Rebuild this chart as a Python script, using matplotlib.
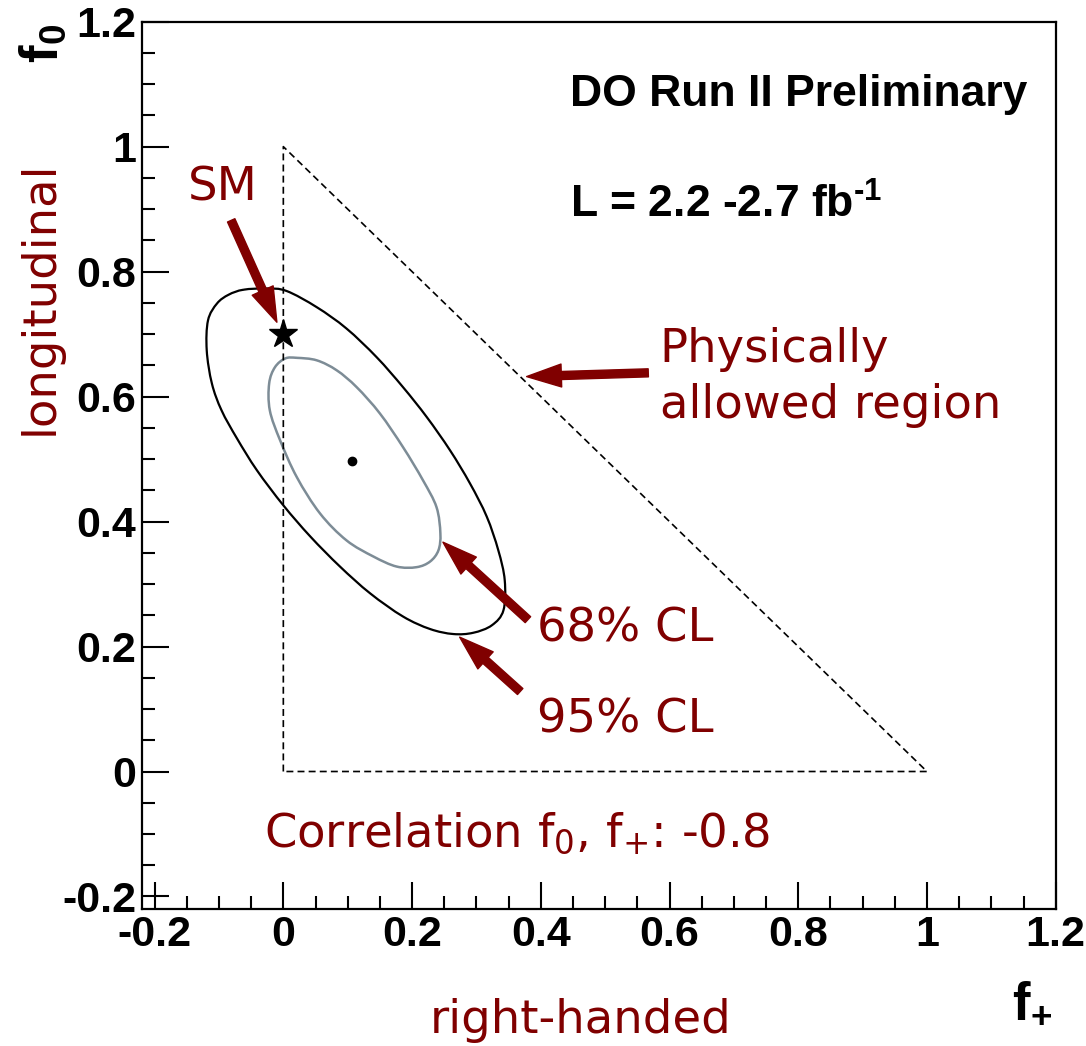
import matplotlib
matplotlib.use("Agg")
import matplotlib.pyplot as plt
from matplotlib.ticker import MultipleLocator, FuncFormatter
from matplotlib.path import Path
from matplotlib.patches import PathPatch

plt.rcParams['font.family'] = ['Liberation Sans', 'DejaVu Sans']
plt.rcParams['axes.unicode_minus'] = False
plt.rcParams['mathtext.default'] = 'regular'
plt.rcParams['lines.scale_dashes'] = False

DARKRED = '#800000'
GREY = '#7d8c96'

# best fit and Standard Model point (f+, f0)
best_fit = (0.107, 0.497)
sm_point = (0.0, 0.70)

# 95% CL contour (black), closed loop
cl95_fplus = [-0.062, -0.026, 0.005, 0.052, 0.098, 0.145, 0.186, 0.223, 0.259, 0.290,
              0.316, 0.334, 0.344, 0.342, 0.324, 0.295, 0.264, 0.228, 0.186, 0.135,
              0.088, 0.042, 0.000, -0.041, -0.072, -0.096, -0.111, -0.119, -0.117,
              -0.103, -0.085]
cl95_f0 = [0.771, 0.773, 0.769, 0.743, 0.709, 0.663, 0.615, 0.567, 0.514, 0.461,
           0.408, 0.354, 0.306, 0.258, 0.234, 0.222, 0.220, 0.228, 0.248, 0.285,
           0.328, 0.376, 0.426, 0.482, 0.533, 0.578, 0.621, 0.674, 0.722,
           0.749, 0.763]

# 68% CL contour (grey), closed loop
cl68_fplus = [0.021, 0.052, 0.083, 0.114, 0.150, 0.186, 0.217, 0.238, 0.244, 0.241,
              0.228, 0.207, 0.176, 0.140, 0.098, 0.057, 0.021, -0.005, -0.021, -0.022,
              -0.013, 0.003]
cl68_f0 = [0.662, 0.658, 0.642, 0.615, 0.573, 0.519, 0.466, 0.423, 0.381, 0.354,
           0.336, 0.327, 0.328, 0.344, 0.370, 0.413, 0.471, 0.530, 0.578, 0.621,
           0.647, 0.661]

# physically allowed region: f0 + f+ <= 1
region_fplus = [0.0, 0.0, 1.0, 0.0]
region_f0 = [0.0, 1.0, 0.0, 0.0]


def closed_curve(xs, ys):
    """smooth closed path through the contour points (Catmull-Rom as cubic Beziers)"""
    n = len(xs)
    pts = list(zip(xs, ys))
    verts = [pts[0]]
    codes = [Path.MOVETO]
    for i in range(n):
        p0, p1 = pts[i - 1], pts[i]
        p2, p3 = pts[(i + 1) % n], pts[(i + 2) % n]
        c1 = (p1[0] + (p2[0] - p0[0]) / 6, p1[1] + (p2[1] - p0[1]) / 6)
        c2 = (p2[0] - (p3[0] - p1[0]) / 6, p2[1] - (p3[1] - p1[1]) / 6)
        verts += [c1, c2, p2]
        codes += [Path.CURVE4] * 3
    return Path(verts, codes)


fig = plt.figure(figsize=(10.86, 10.46), dpi=100)
ax = fig.add_axes([0.1305, 0.131, 0.8416, 0.8483])

ax.set_xlim(-0.22, 1.2)
ax.set_ylim(-0.22, 1.2)
ax.xaxis.set_major_locator(MultipleLocator(0.2))
ax.yaxis.set_major_locator(MultipleLocator(0.2))
ax.xaxis.set_minor_locator(MultipleLocator(0.05))
ax.yaxis.set_minor_locator(MultipleLocator(0.05))
fmt = FuncFormatter(lambda v, pos: '%g' % round(v, 3))
ax.xaxis.set_major_formatter(fmt)
ax.yaxis.set_major_formatter(fmt)
ax.tick_params(which='both', direction='in', top=False, right=False, width=1.5)
ax.tick_params(which='major', length=19.5, labelsize=31, pad=4)
ax.tick_params(which='minor', length=9.5)
for lbl in ax.get_xticklabels() + ax.get_yticklabels():
    lbl.set_fontweight('bold')
for s in ax.spines.values():
    s.set_linewidth(1.6)

ax.plot(region_fplus, region_f0, color='black', lw=1.2, dashes=(5, 3))
ax.add_patch(PathPatch(closed_curve(cl95_fplus, cl95_f0), facecolor='none',
                       edgecolor='black', lw=1.6))
ax.add_patch(PathPatch(closed_curve(cl68_fplus, cl68_f0), facecolor='none',
                       edgecolor=GREY, lw=1.8))
ax.plot(*best_fit, 'o', color='black', ms=6)
ax.plot(*sm_point, '*', color='black', ms=21, clip_on=False)

arrow = dict(facecolor=DARKRED, edgecolor=DARKRED, width=5.8, headwidth=16.5,
             headlength=25, shrink=0)
ax.annotate('', xy=(-0.010, 0.719), xytext=(-0.081, 0.882), arrowprops=arrow)
ax.annotate('', xy=(0.378, 0.632), xytext=(0.567, 0.638), arrowprops=arrow)
ax.annotate('', xy=(0.248, 0.367), xytext=(0.380, 0.243), arrowprops=arrow)
ax.annotate('', xy=(0.274, 0.215), xytext=(0.368, 0.128), arrowprops=arrow)

red = dict(color=DARKRED, family='DejaVu Sans', fontsize=33.5, va='baseline', ha='left')
ax.text(-0.148, 0.914, 'SM', **red)
ax.text(0.585, 0.655, 'Physically', **red)
ax.text(0.585, 0.565, 'allowed region', **red)
ax.text(0.394, 0.2076, '68% CL', **red)
ax.text(0.394, 0.0617, '95% CL', **red)
ax.text(-0.030, -0.1205, 'Correlation f$_{0}$, f$_{{+}}$: -0.8', **red)

black = dict(color='black', fontsize=32, fontweight='bold', va='baseline', ha='left')
ax.text(0.445, 1.0655, 'DO Run II Preliminary', **black)
ax.text(0.445, 0.887, 'L = 2.2 -2.7 fb$^{\u2010 1}$', **black)

# axis titles placed in figure pixels, ROOT style
W, H = 1086.0, 1046.0
fig.text(53 / W, 1 - 435 / H, 'longitudinal', color=DARKRED, family='DejaVu Sans',
         fontsize=33.5, rotation=90, rotation_mode='anchor', ha='left', va='baseline')
fig.text(430 / W, 1 - 1033 / H, 'right-handed', color=DARKRED, family='DejaVu Sans',
         fontsize=33.5, ha='left', va='baseline')
fig.text(58 / W, 1 - 63 / H, 'f$_{0}$', fontsize=38, fontweight='bold',
         rotation=90, rotation_mode='anchor', ha='left', va='baseline')
fig.text(1012 / W, 1 - 1018 / H, 'f$_{{+}}$', fontsize=38, fontweight='bold',
         ha='left', va='baseline')

fig.savefig('out.png', dpi=100)
